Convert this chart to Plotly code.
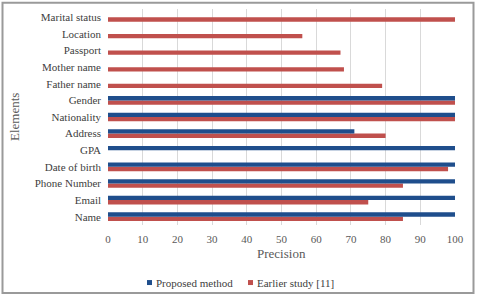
import plotly.graph_objects as go

categories = ["Name", "Email", "Phone Number", "Date of birth", "GPA", "Address",
              "Nationality", "Gender", "Father name", "Mother name", "Passport",
              "Location", "Marital status"]
proposed = [100, 100, 100, 100, 100, 71, 100, 100, 0, 0, 0, 0, 0]
earlier = [85, 75, 85, 98, 0, 80, 100, 100, 79, 68, 67, 56, 100]
x_ticks = [0, 10, 20, 30, 40, 50, 60, 70, 80, 90, 100]
series_names = ["Proposed method", "Earlier study [11]"]

FONT = "Liberation Serif"
BLUE = "#1f4e8c"
RED = "#c0504d"
TXT = "#404040"
GRAYTXT = "#595959"

fig = go.Figure()
fig.add_trace(go.Bar(y=categories, x=earlier, orientation="h", name=series_names[1],
                     marker=dict(color=RED, line=dict(width=0)), showlegend=False))
fig.add_trace(go.Bar(y=categories, x=proposed, orientation="h", name=series_names[0],
                     marker=dict(color=BLUE, line=dict(width=0)), showlegend=False))

L, R, T, B = 108, 25, 8.7, 72.7
W, H = 480, 298
pw, ph = W - L - R, H - T - B

def px(x):
    return (x - L) / pw

def py(y):
    return (H - B - y) / ph

# outer frame
fig.add_shape(type="rect", xref="paper", yref="paper",
              x0=px(2.5), x1=px(473.5), y0=py(293.5), y1=py(2.5),
              line=dict(color="#9a9a9a", width=2), layer="below")

# axis titles
fig.add_annotation(text="Elements", xref="paper", yref="paper", x=px(14), y=py(117),
                   textangle=-90, showarrow=False, xanchor="center", yanchor="middle",
                   font=dict(family=FONT, size=13, color=GRAYTXT))
fig.add_annotation(text="Precision", xref="paper", yref="paper", x=px(281), y=py(254),
                   showarrow=False, xanchor="center", yanchor="middle",
                   font=dict(family=FONT, size=13, color=GRAYTXT))

# legend (manual)
for name, color, sx in [(series_names[0], BLUE, 147), (series_names[1], RED, 248)]:
    fig.add_shape(type="rect", xref="paper", yref="paper",
                  x0=px(sx), x1=px(sx + 5), y0=py(285.5), y1=py(280.5),
                  fillcolor=color, line=dict(width=0))
    fig.add_annotation(text=name, xref="paper", yref="paper", x=px(sx + 7), y=py(283),
                       showarrow=False, xanchor="left", yanchor="middle",
                       font=dict(family=FONT, size=11, color=TXT))

fig.update_layout(
    width=W, height=H,
    margin=dict(l=L, r=R, t=T, b=B, autoexpand=False),
    paper_bgcolor="white", plot_bgcolor="white",
    barmode="group", bargap=0.48, bargroupgap=0,
    font=dict(family=FONT, size=11, color=TXT),
    showlegend=False,
    xaxis=dict(range=[0, 100], tickvals=x_ticks, showgrid=True, gridcolor="#d9d9d9",
               gridwidth=1, zeroline=False, showline=False, ticks="",
               ticklabelstandoff=6, automargin=False,
               tickfont=dict(family=FONT, size=11, color=GRAYTXT)),
    yaxis=dict(categoryorder="array", categoryarray=categories, showgrid=False,
               showline=False, ticks="", ticklabelstandoff=6, automargin=False,
               tickfont=dict(family=FONT, size=11, color=TXT)),
)

fig.write_html("out.html", config={"displayModeBar": False},
               post_script="document.body.style.margin='0';")
